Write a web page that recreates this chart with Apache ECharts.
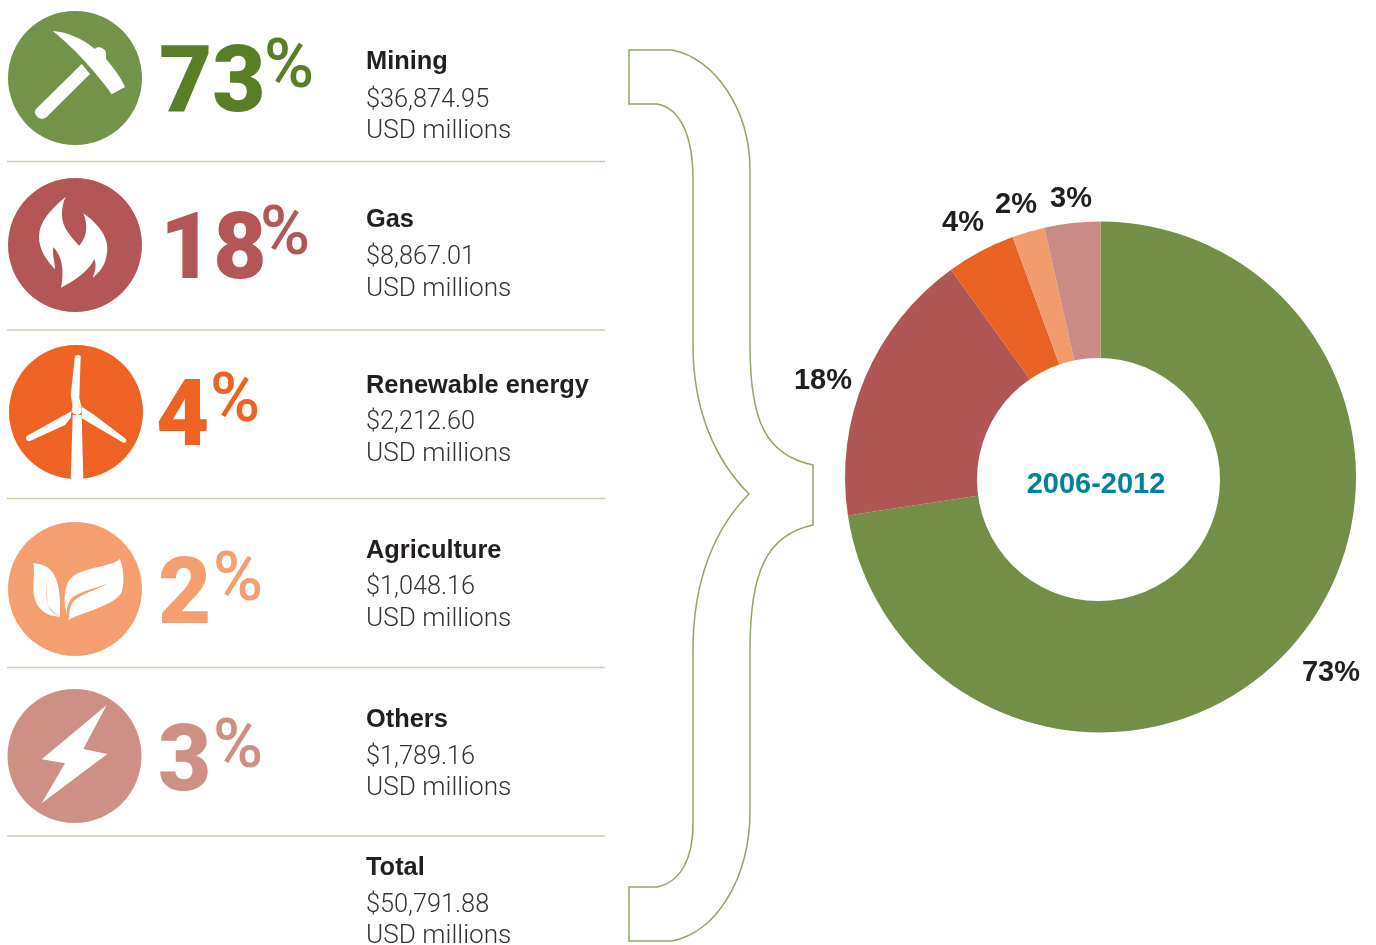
<!DOCTYPE html>
<html>
<head>
<meta charset="utf-8">
<style>html,body{margin:0;padding:0;background:#fff}#c{width:1376px;height:945px}</style>
<script src="https://cdn.jsdelivr.net/npm/echarts@6/dist/echarts.min.js"></script>
</head>
<body>
<div id="c"></div>
<script>
// ---- data ----
const categories = ['Mining', 'Gas', 'Renewable energy', 'Agriculture', 'Others'];
const amounts = [36874.95, 8867.01, 2212.60, 1048.16, 1789.16];
const amountLabels = ['$36,874.95', '$8,867.01', '$2,212.60', '$1,048.16', '$1,789.16'];
const shareLabels = ['73', '18', '4', '2', '3'];
const totalLabel = 'Total';
const totalAmountLabel = '$50,791.88';
const unitLabel = 'USD millions';
const periodLabel = '2006-2012';

// ---- styles ----
const sliceColors = ['#738e46', '#b05654', '#ea6223', '#f29b6d', '#c98b84'];
const circleColors = ['#73924a', '#b35655', '#ee6223', '#f59e6f', '#ce8f85'];
const shareColors = ['#5a7d27', '#b35655', '#ee6223', '#f59e6f', '#ce8f85'];
const BODY = '"Liberation Sans", Arial, sans-serif';
const ink = '#231f20';
const body = '#333335';
const ruleColor = '#c3d0a8';
const braceColor = '#8fa768';

// ---- layout of the left panel ----
const circleCx = [75, 75, 76, 75, 74.5];
const circleCy = [78, 245, 412, 589, 756];
const digitX = [159, 160, 156, 158, 158];
const digitY = [88, 255, 422, 600, 767];
const pctX = [264, 260, 210, 213, 213];
const pctY = [70, 237, 404, 583, 750];
const nameY = [62, 220, 386, 551, 720, 868];
const amountY = [101, 258, 423, 588, 758, 906];
const unitY = [131, 289, 454, 619, 788, 936];
const ruleY = [161.5, 330, 498.5, 667.5, 836];
const labelPositions = [[1331, 673], [823, 381], [963, 223], [1016, 205], [1071, 199]];

// ---- line art, in reference pixels ----
const iconPaths = {
  pickHead: 'M52.7 31 C68 32 83 39 95 49 C97 46 103 47 105.5 51 C106.5 54 106 57 106 59 C114 68 121 78 125 87 L111.7 94.3 C106 86 98 76 88 65 C78 53 64 40 52.7 31 Z',
  pickHandle: 'M81.7 64 L90 74 L46.7 117 C43 120 38 119 36 115 C34 112 35 110 37 108 Z',
  flame: 'M65.7 196.7 C50 210 39 222 39 237 C39 250 47 261 55 269.3 C55 262 52 255 53.3 247.3 C61 254 65 270 61 287.7 C74 281 87 273 94.3 259.3 C97 265 95 272 92.7 277.7 C103 270 107.3 260 107.3 248 C107.3 235 96 222 83.3 213.3 C89 227 86 238 79.3 245.7 C72 238 62 228 62 215 C62 208 63 202 65.7 196.7 Z',
  bladeUp: 'M75 356 C76 354.5 80 354.5 80.7 356 L79.3 398 L81.7 407 L72.7 407 L70.7 395 Z',
  bladeLeft: 'M71.7 411 L26.7 436 C25 439 27 442 30 441 L65 425 L70.7 418 Z',
  bladeRight: 'M81.7 406.7 L93.3 414.3 L126 439 C127 442 125 443 123.3 442.7 L81.7 418.3 Z',
  tower: 'M72.7 415 L81.7 415 L83.3 480 L70.7 480 Z',
  leafLeft: 'M33.3 563 C50 565 61.7 572 60 616.7 C43.3 616.7 33.3 605 33.3 588.3 C33.3 578 35 572 33.3 563 Z',
  leafRight: 'M120 559 C110 568 76.7 566.7 68.3 581.7 C63.3 591.7 63.3 605 68.3 620 C83.3 611.7 116.7 605 121.7 591.7 C125 581.7 123.3 568 120 559 Z',
  bolt: 'M106.7 705 L83.3 749 L107.3 754 L41.7 803.3 L65 763.3 L41.7 759.3 Z',
  brace: 'M629 50 L672 50 C715 58 750 110 750 170 L750 345 C750 420 765 455 813 465 L813 525 C765 535 750 575 750 650 L750 810 C750 880 715 933 672 941 L629 941 L629 887 L657 887 C680 882 693 860 693 823 L693 650 C693 580 715 528 749 494 C715 460 693 410 693 345 L693 180 C693 135 680 108 657 104 L629 104 Z',
  veinLeft: 'M45.7 578 C46 590 46 603 50 608 C53 612 57 615 60 616.5 C54 614 50 611 48.5 606 C47 600 46.5 590 45.7 578 Z',
  veinRight: 'M108.3 583.3 C95 589 80 591 72 598 C67 603 66 612 67 619 L69 619 C69 612 70 604 75 600 C82 594 96 590 108.3 583.3 Z'
};
Object.keys(iconPaths).forEach(function (k) {
  echarts.graphic.registerShape(k, echarts.graphic.extendPath(iconPaths[k], {}));
});

// ---- build graphics ----
const g = [];
const text = (s, x, y, font, fill, extra, z) => g.push({
  type: 'text', silent: true, x: x, y: y, z: z || 0,
  style: Object.assign({ text: s, font: font, fill: fill, textAlign: 'left', textVerticalAlign: 'middle', verticalAlign: 'middle' }, extra || {})
});
const shape = (name, fill, stroke, lw) => g.push({
  type: name, silent: true,
  style: { fill: fill, stroke: stroke || null, lineWidth: lw || 0 }
});

ruleY.forEach(y => g.push({ type: 'line', silent: true, shape: { x1: 7, y1: y, x2: 605, y2: y }, style: { stroke: ruleColor, lineWidth: 1.3 } }));
shape('brace', '#fff', braceColor, 1.5);

categories.forEach((c, i) => {
  g.push({ type: 'circle', silent: true, shape: { cx: circleCx[i], cy: circleCy[i], r: 67 }, style: { fill: circleColors[i] } });
  text(shareLabels[i], digitX[i], digitY[i], '900 92px Roboto', shareColors[i]);
  text('%', pctX[i], pctY[i], '500 68px Roboto', shareColors[i]);
  text(c, 366, nameY[i], 'bold 25.4px ' + BODY, ink);
  text(amountLabels[i], 366, amountY[i], '300 25.3px Roboto', body);
  text(unitLabel, 366, unitY[i], '300 26.2px Roboto', body);
});
text(totalLabel, 366, nameY[5], 'bold 25.4px ' + BODY, ink);
text(totalAmountLabel, 366, amountY[5], '300 25.3px Roboto', body);
text(unitLabel, 366, unitY[5], '300 26.2px Roboto', body);

shape('pickHead', '#fff');
shape('pickHandle', '#fff');
shape('flame', '#fff');
shape('tower', '#fff');
shape('bladeUp', '#fff');
shape('bladeLeft', '#fff');
shape('bladeRight', '#fff');
g.push({ type: 'circle', silent: true, shape: { cx: 76.7, cy: 410, r: 5 }, style: { fill: '#fff' } });
shape('leafLeft', '#fff');
shape('leafRight', '#fff');
shape('veinLeft', circleColors[3]);
shape('veinRight', circleColors[3]);
shape('bolt', '#fff');

// donut hole sits slightly off the outer circle's centre in the reference
g.push({ type: 'circle', silent: true, z: 10, shape: { cx: 1098.5, cy: 479.5, r: 121.5 }, style: { fill: '#fff' } });
text(periodLabel, 1096, 485, 'bold 29px ' + BODY, '#00829b', { textAlign: 'center', align: 'center' }, 11);

const chart = echarts.init(document.getElementById('c'), null, { renderer: 'canvas' });
chart.setOption({
  animation: false,
  backgroundColor: '#ffffff',
  graphic: { elements: g },
  series: [{
    type: 'pie',
    silent: true,
    left: 0, top: 0, width: 3000, height: 945,
    center: [1100.5, 477],
    radius: [116, 255.5],
    startAngle: 90,
    data: categories.map((c, i) => ({
      name: c,
      value: amounts[i],
      itemStyle: { color: sliceColors[i] },
      label: { formatter: shareLabels[i] + '%' }
    })),
    label: { show: true, position: 'outside', color: ink, fontFamily: BODY, fontWeight: 'bold', fontSize: 29 },
    labelLine: { show: false },
    labelLayout: function (p) {
      const pos = labelPositions[p.dataIndex];
      return { x: pos[0], y: pos[1], align: 'center', verticalAlign: 'middle' };
    }
  }]
});
</script>
</body>
</html>
